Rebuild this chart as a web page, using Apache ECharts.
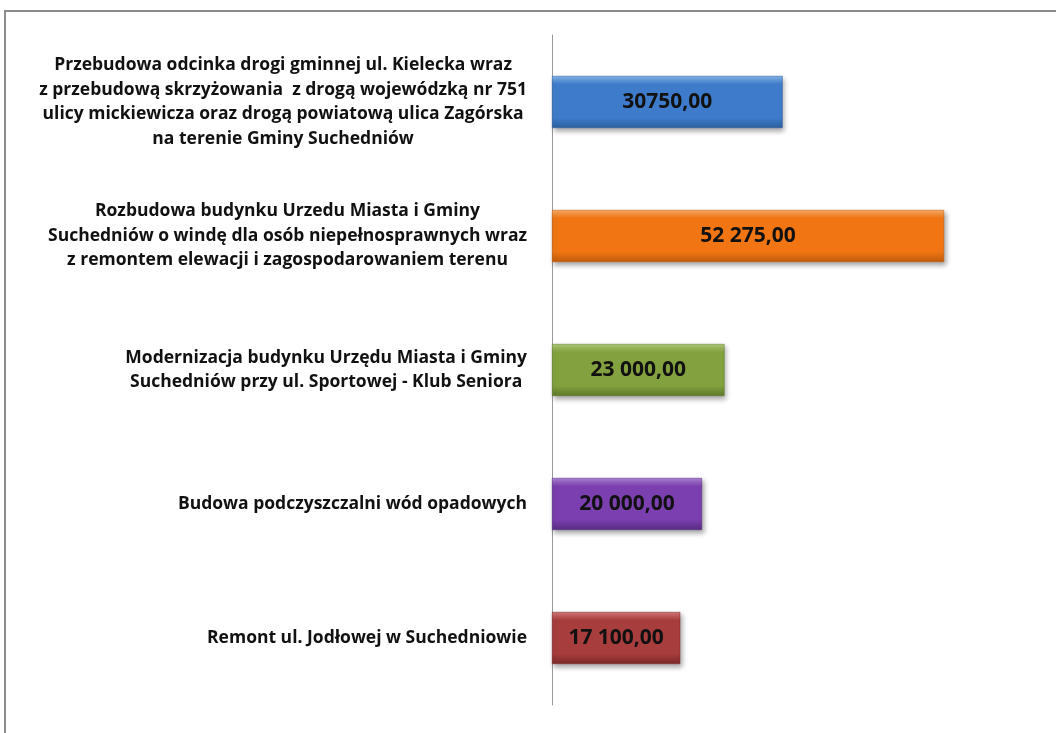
<!DOCTYPE html>
<html>
<head>
<meta charset="utf-8">
<script src="https://cdn.jsdelivr.net/npm/echarts@6/dist/echarts.min.js"></script>
<style>
    html, body { margin: 0; padding: 0; background: #fff; }
    #chart { width: 1056px; height: 733px; }
</style>
</head>
<body>
<div id="chart"></div>
<script>
// dane
var categories = [
    'Przebudowa odcinka drogi gminnej ul. Kielecka wraz\nz przebudową skrzyżowania  z drogą wojewódzką nr 751\nulicy mickiewicza oraz drogą powiatową ulica Zagórska\nna terenie Gminy Suchedniów',
    'Rozbudowa budynku Urzedu Miasta i Gminy\nSuchedniów o windę dla osób niepełnosprawnych wraz\nz remontem elewacji i zagospodarowaniem terenu',
    'Modernizacja budynku Urzędu Miasta i Gminy\nSuchedniów przy ul. Sportowej - Klub Seniora',
    'Budowa podczyszczalni wód opadowych',
    'Remont ul. Jodłowej w Suchedniowie'
];
var values = [30750, 52275, 23000, 20000, 17100];
var valueLabels = ['30750,00', '52 275,00', '23 000,00', '20 000,00', '17 100,00'];
var colors = [
    ['#86b6ee', '#3e7ccb', '#2d5f9e'],
    ['#fbad6a', '#f17613', '#c05c0c'],
    ['#b2cb78', '#83a23f', '#5f7a2a'],
    ['#ae84d6', '#7b3fb0', '#582c82'],
    ['#d67878', '#a83d3d', '#7c2a2a']
];

function bevel(c) {
    return new echarts.graphic.LinearGradient(0, 0, 0, 1, [
        {offset: 0, color: c[0]},
        {offset: 0.16, color: c[1]},
        {offset: 0.8, color: c[1]},
        {offset: 1, color: c[2]}
    ]);
}

var labelFont = '"Open Sans", Lato, sans-serif';

var option = {
    backgroundColor: '#fff',
    animation: false,
    graphic: [{
        type: 'rect',
        shape: {x: 5, y: 11, width: 1100, height: 800},
        style: {fill: 'none', stroke: '#8c8c8c', lineWidth: 2}
    }],
    grid: {left: 552, right: 54, top: 35, bottom: 28},
    xAxis: {
        type: 'value',
        min: 0,
        max: 60000,
        show: false
    },
    yAxis: {
        type: 'category',
        inverse: true,
        data: categories,
        axisLine: {show: true, lineStyle: {color: '#9a9a9a', width: 1}},
        axisTick: {show: false},
        axisLabel: {
            margin: 25,
            align: 'right',
            fontFamily: labelFont,
            fontWeight: 'bold',
            fontSize: 17.5,
            lineHeight: 24.5,
            color: '#111',
            formatter: function (v) {
                return v.split('\n').map(function (l) { return '{c|' + l + '}'; }).join('\n');
            },
            rich: {
                c: {
                    align: 'center',
                    fontFamily: labelFont,
                    fontWeight: 'bold',
                    fontSize: 17.5,
                    lineHeight: 24.5,
                    color: '#111'
                }
            }
        }
    },
    series: [{
        type: 'bar',
        barWidth: 52,
        data: values.map(function (v, i) {
            return {
                value: v,
                itemStyle: {
                    color: bevel(colors[i]),
                    borderColor: colors[i][2],
                    borderWidth: 0.5
                }
            };
        }),
        itemStyle: {
            shadowColor: 'rgba(0,0,0,0.35)',
            shadowBlur: 5,
            shadowOffsetX: 2,
            shadowOffsetY: 3
        },
        label: {
            show: true,
            position: 'inside',
            fontFamily: labelFont,
            fontWeight: 'bold',
            fontSize: 21,
            color: '#111',
            formatter: function (p) { return valueLabels[p.dataIndex]; }
        }
    }]
};

var myChart = echarts.init(document.getElementById('chart'));
myChart.setOption(option);
</script>
</body>
</html>
